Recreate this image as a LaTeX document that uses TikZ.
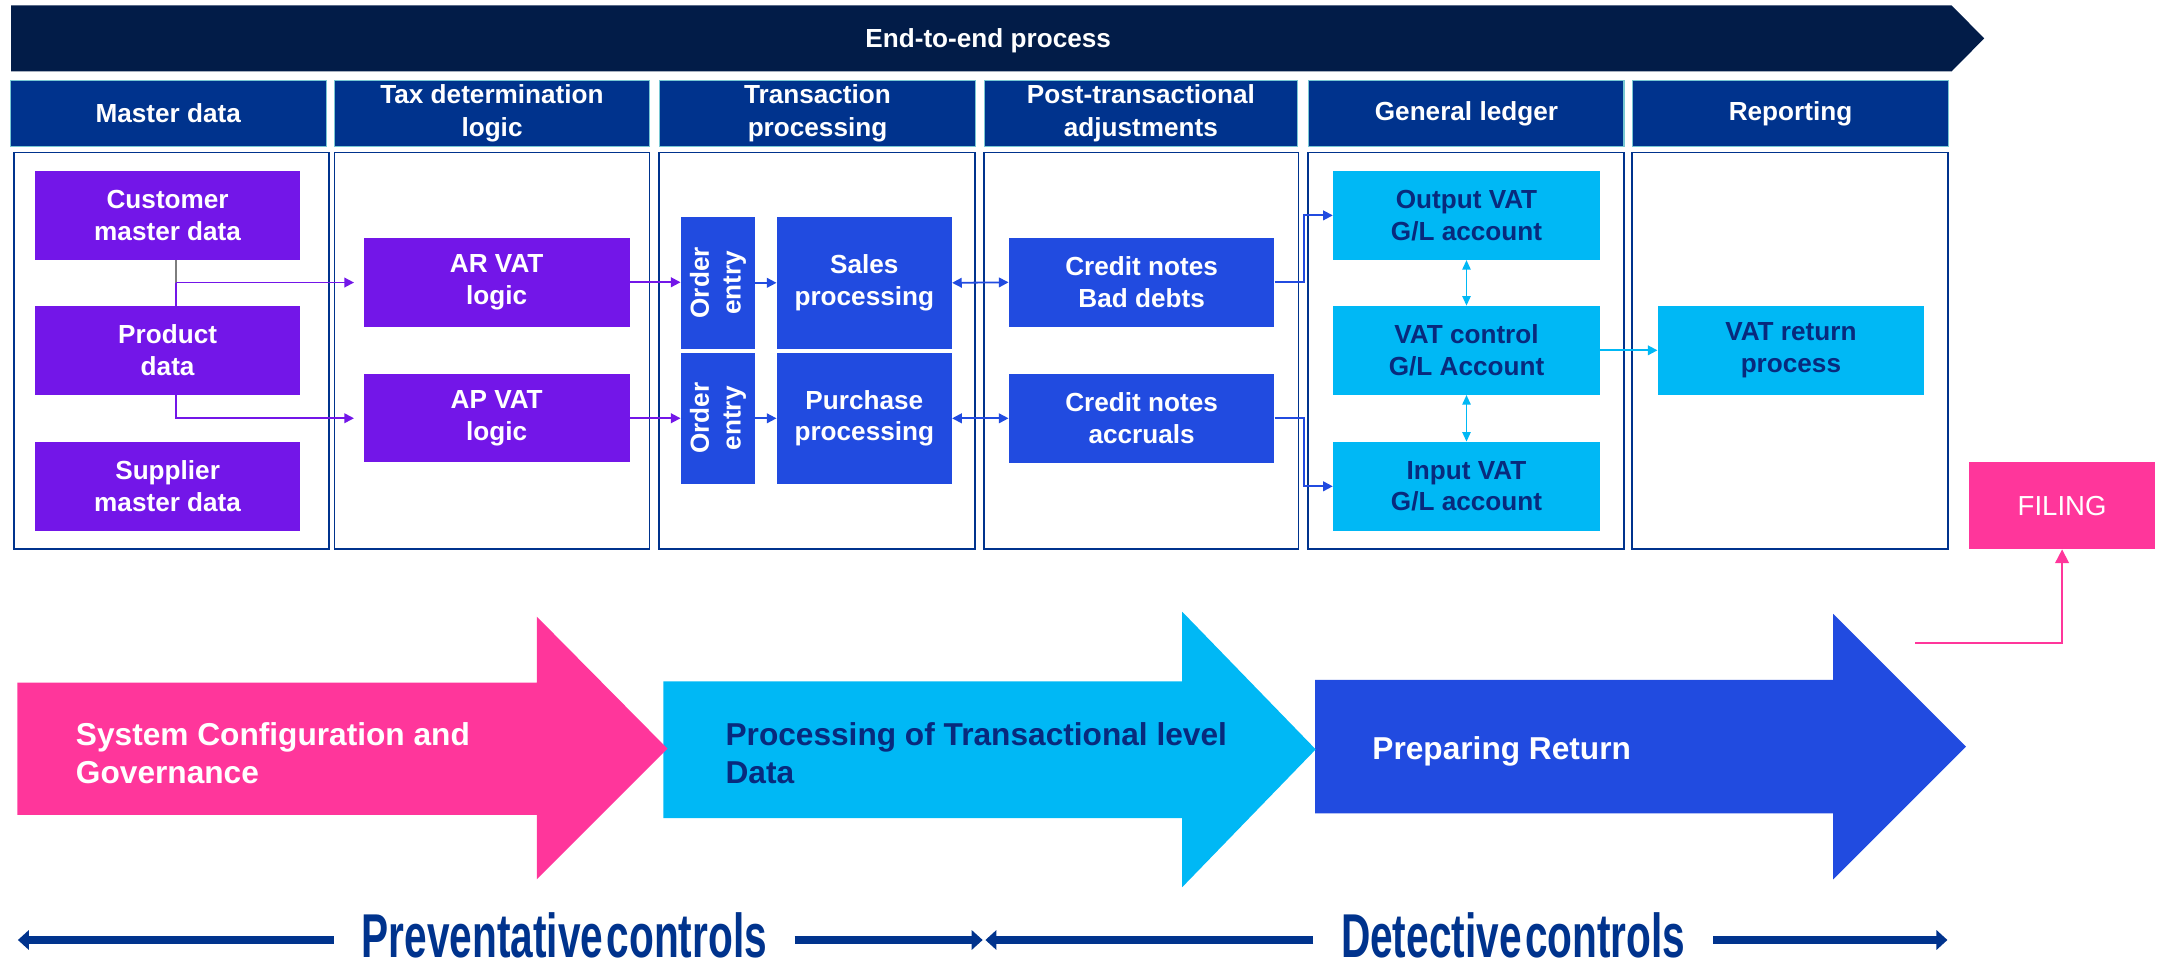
\documentclass[tikz,border=0pt]{standalone}
\usepackage{fontspec}
\setmainfont{Liberation Sans}
\newfontfamily\ctrlfont{Liberation Sans Bold}[FakeStretch=0.656,WordSpace=0.3]
\usetikzlibrary{arrows.meta}
\definecolor{bannerc}{RGB}{2,28,72}
\definecolor{headc}{RGB}{0,51,141}
\definecolor{headline}{RGB}{120,200,212}
\definecolor{navyc}{RGB}{0,51,141}
\definecolor{textnavy}{RGB}{8,42,125}
\definecolor{purplec}{RGB}{115,22,232}
\definecolor{bluec}{RGB}{33,75,224}
\definecolor{cyanc}{RGB}{0,184,245}
\definecolor{pinkc}{RGB}{255,54,155}
\definecolor{grayc}{RGB}{125,125,125}
\begin{document}
\begin{tikzpicture}[x=1pt,y=-1pt,
  boxtext/.style={inner sep=0pt, align=center, font=\fontsize{19}{23}\selectfont\bfseries},
  pbox/.style={boxtext, fill=purplec, text=white, minimum width=193pt},
  bbox/.style={boxtext, fill=bluec, text=white},
  cbox/.style={boxtext, fill=cyanc, text=textnavy, minimum width=193.9pt, minimum height=64.5pt},
  headbox/.style={boxtext, fill=headc, draw=headline, line width=0.8pt, text=white, minimum height=48pt, font=\fontsize{19}{24}\selectfont\bfseries},
  colbox/.style={draw=navyc, line width=1.2pt, fill=white, minimum height=288.1pt, inner sep=0pt},
  bigtext/.style={inner sep=0pt, align=left, font=\fontsize{23}{28}\selectfont\bfseries},
  ctrltext/.style={inner xsep=20pt, inner ysep=0pt, text=navyc, font=\fontsize{45}{48}\ctrlfont},
  ctrlarrow/.style={draw=navyc, line width=6.3pt, -{Triangle[length=8pt,width=14pt]}},
  pconn/.style={draw=purplec, line width=1.3pt},
  parrow/.style={pconn, -{Triangle[length=7pt,width=7pt]}},
  barrow/.style={draw=bluec, line width=1.3pt, -{Triangle[length=7pt,width=7pt]}},
  bdarrow/.style={draw=bluec, line width=1.3pt, {Triangle[length=7pt,width=7pt]}-{Triangle[length=7pt,width=7pt]}},
  carrow/.style={draw=cyanc, line width=1.3pt, -{Triangle[length=7pt,width=7pt]}},
  cdarrow/.style={draw=cyanc, line width=1.3pt, {Triangle[length=7pt,width=6pt]}-{Triangle[length=7pt,width=6pt]}},
  pinkarrow/.style={draw=pinkc, line width=1.3pt, -{Triangle[length=10pt,width=10pt]}}
]
\useasboundingbox (0,0) rectangle (1568,703);

% banner
\fill[bannerc] (8,3.9) -- (1418,3.9) -- (1441.7,27.9) -- (1418,51.9) -- (8,51.9) -- cycle;
\node[anchor=base, text=white, font=\fontsize{19}{23}\selectfont\bfseries] (bannertext) at (718,34.8) {End-to-end process};

% headers
\node[headbox, minimum width=229.5pt] (h1) at (122.25,82.4) {Master data};
\node[headbox, minimum width=229pt] (h2) at (357.5,82.4) {Tax determination\\logic};
\node[headbox, minimum width=230pt] (h3) at (594,82.4) {Transaction\\processing};
\node[headbox, minimum width=228pt] (h4) at (829,82.4) {Post-transactional\\adjustments};
\node[headbox, minimum width=229pt] (h5) at (1065.5,82.4) {General ledger};
\node[headbox, minimum width=230pt] (h6) at (1301,82.4) {Reporting};

% column boxes
\node[colbox, minimum width=228.6pt] (c1) at (124.7,254.85) {};
\node[colbox, minimum width=229pt] (c2) at (357.5,254.85) {};
\node[colbox, minimum width=229.5pt] (c3) at (593.75,254.85) {};
\node[colbox, minimum width=228.5pt] (c4) at (829.25,254.85) {};
\node[colbox, minimum width=229.5pt] (c5) at (1065.25,254.85) {};
\node[colbox, minimum width=229.5pt] (c6) at (1300.75,254.85) {};

% master data
\node[pbox, minimum height=64.1pt] (cust) at (121.8,156.55) {Customer\\master data};
\node[pbox, minimum height=64.3pt] (prod) at (121.8,254.55) {Product\\data};
\node[pbox, minimum height=64.4pt] (supp) at (121.8,353.4) {Supplier\\master data};

% tax logic
\node[pbox, minimum height=64.6pt] (ar) at (360.9,205.1) {AR VAT\\logic};
\node[pbox, minimum height=64.3pt] (ap) at (360.9,303.9) {AP VAT\\logic};

% transaction processing (rotated: north = left edge, south = right edge)
\node[bbox, rotate=90, minimum width=95.6pt, minimum height=53.9pt] (oe1) at (521.65,205.5) {Order\\entry};
\node[bbox, rotate=90, minimum width=94.9pt, minimum height=53.9pt] (oe2) at (521.65,303.95) {Order\\entry};
\node[bbox, minimum width=127.2pt, minimum height=95.6pt] (sales) at (628,205.5) {Sales\\processing};
\node[bbox, minimum width=127.2pt, minimum height=94.9pt] (purch) at (628,303.95) {Purchase\\processing};

% post-transactional
\node[bbox, minimum width=193pt, minimum height=64.5pt] (cn1) at (829.5,205.15) {Credit notes\\Bad debts};
\node[bbox, minimum width=193pt, minimum height=64.4pt] (cn2) at (829.5,303.95) {Credit notes\\accruals};

% general ledger
\node[cbox] (outvat) at (1065.55,156.5) {Output VAT\\G/L account};
\node[cbox] (vatctl) at (1065.55,254.55) {VAT control\\G/L Account};
\node[cbox] (invat) at (1065.55,353.35) {Input VAT\\G/L account};

% reporting
\node[cbox, minimum width=193.5pt] (vatret) at (1301.25,254.55) {VAT return\\process};

% filing
\node[inner sep=0pt, fill=pinkc, text=white, minimum width=135.4pt, minimum height=63.3pt, font=\fontsize{20}{24}\selectfont] (filing) at (1498.3,367.35) {FILING};

% connectors
\coordinate (j1) at (128,205.3);
\coordinate (j2) at (128,303.9);
\draw[draw=grayc, line width=1.3pt] (cust.south -| j1) -- (j1);
\draw[pconn] (j1) -- (prod.north -| j1);
\draw[parrow, shorten >=7pt] (j1) -- (ar.west |- j1);
\draw[parrow, shorten >=7pt] (prod.south -| j2) -- (j2) -- (ap.west |- j2);
\draw[parrow] (ar.east) -- (oe1.north |- ar.east);
\draw[parrow] (ap.east) -- (oe2.north |- ap.east);
\draw[barrow] (oe1.south) -- (sales.west);
\draw[barrow] (oe2.south) -- (purch.west);
\draw[bdarrow] (sales.east) -- (cn1.west);
\draw[bdarrow] (purch.east) -- (cn2.west);
\draw[barrow] (cn1.east) -- ++(21,0) |- (outvat.west);
\draw[barrow] (cn2.east) -- ++(21,0) |- (invat.west);
\draw[cdarrow] (outvat.south) -- (vatctl.north);
\draw[cdarrow] (vatctl.south) -- (invat.north);
\draw[carrow] (vatctl.east) -- (vatret.west);
\coordinate (pstart) at (1391.5,467);
\draw[pinkarrow] (pstart) -| (filing.south);

% big arrows
\fill[bluec] (955.5,494) -- (1332,494) -- (1332,446) -- (1428.5,542.5) -- (1332,639) -- (1332,591) -- (955.5,591) -- cycle;
\fill[cyanc] (482,495) -- (859,495) -- (859,444.5) -- (956,544.5) -- (859,644.6) -- (859,594.5) -- (482,594.5) -- cycle;
\fill[pinkc] (12.7,496) -- (390,496) -- (390,448) -- (485,544) -- (390,639) -- (390,592) -- (12.7,592) -- cycle;
\node[bigtext, text=white, anchor=west] (sysconf) at (55,547.1) {System Configuration and\\Governance};
\node[bigtext, text=textnavy, anchor=west] (proctx) at (527,547.1) {Processing of Transactional level\\Data};
\node[bigtext, text=white, anchor=base west] (prepret) at (997,551.5) {Preparing Return};

% controls
\node[ctrltext, anchor=base] (prev) at (410,696) {Preventative controls};
\node[ctrltext, anchor=base] (detect) at (1099.5,696) {Detective controls};
\coordinate (pl) at (13,683);
\coordinate (pr) at (714,683);
\coordinate (dl) at (716,683);
\coordinate (dr) at (1415,683);
\draw[ctrlarrow] (prev.west |- pl) -- (pl);
\draw[ctrlarrow] (prev.east |- pr) -- (pr);
\draw[ctrlarrow] (detect.west |- dl) -- (dl);
\draw[ctrlarrow] (detect.east |- dr) -- (dr);
\end{tikzpicture}
\end{document}
